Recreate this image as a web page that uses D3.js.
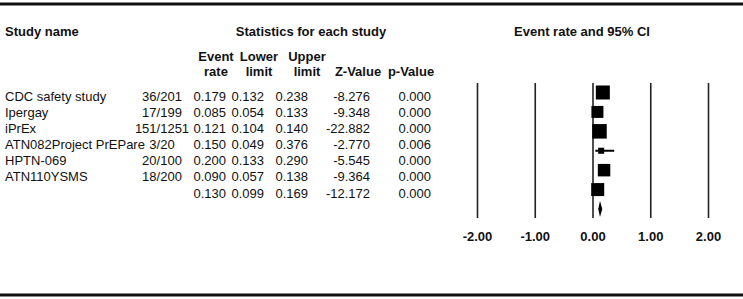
<!DOCTYPE html>
<html>
<head>
<meta charset="utf-8">
<script src="https://cdn.jsdelivr.net/npm/d3@7"></script>
<style>
  body { margin: 0; background: #fff; }
  svg text { font-family: "Liberation Sans", Arial, sans-serif; fill: #111; }
  .hdr { font-weight: bold; font-size: 13px; }
  .cell { font-size: 13px; }
</style>
</head>
<body>
<div id="forest"></div>
<script>
// study rows
let studies = ["CDC safety study", "Ipergay", "iPrEx", "ATN082Project PrEPare", "HPTN-069", "ATN110YSMS"];
let events = ["36/201", "17/199", "151/1251", "3/20", "20/100", "18/200"];
let eventRate = [0.179, 0.085, 0.121, 0.150, 0.200, 0.090];
let lowerLimit = [0.132, 0.054, 0.104, 0.049, 0.133, 0.057];
let upperLimit = [0.238, 0.133, 0.140, 0.376, 0.290, 0.138];
let zValue = [-8.276, -9.348, -22.882, -2.770, -5.545, -9.364];
let pValue = [0.000, 0.000, 0.000, 0.006, 0.000, 0.000];
let relWeight = [21.5, 15.8, 23.1, 4.0, 17.1, 18.6];
// pooled row: rate, lower, upper, z, p
let summaryStats = [0.130, 0.099, 0.169, -12.172, 0.000];
let axisTicks = [-2, -1, 0, 1, 2];

let width = 743, height = 299;

let svg = d3.select("#forest").append("svg")
    .attr("width", width)
    .attr("height", height);

// rules top and bottom
svg.append("line").attr("x1", 0).attr("x2", width).attr("y1", 4).attr("y2", 4)
    .attr("stroke", "#111").attr("stroke-width", 3);
svg.append("line").attr("x1", 0).attr("x2", width).attr("y1", 295).attr("y2", 295)
    .attr("stroke", "#111").attr("stroke-width", 3);

// table rows and plot rows use different spacing in the original
let rowY = d3.scaleLinear().domain([0, 6]).range([101, 197.5]);
let plotY = d3.scaleLinear().domain([0, 6]).range([92.5, 209]);

let x = d3.scaleLinear().domain([-2, 2]).range([477, 708]);
let boxSide = d3.scaleSqrt().domain([0, d3.max(relWeight)]).range([0, 14.5]);

// headers
svg.append("text").attr("class", "hdr").attr("x", 5).attr("y", 36).text("Study name");
svg.append("text").attr("class", "hdr").attr("x", 311).attr("y", 36)
    .attr("text-anchor", "middle").text("Statistics for each study");
svg.append("text").attr("class", "hdr").attr("x", 582).attr("y", 36)
    .attr("text-anchor", "middle").text("Event rate and 95% CI");

let cols = [
    {right: 226, top: "Event", bottom: "rate"},
    {right: 264, top: "Lower", bottom: "limit"},
    {right: 308, top: "Upper", bottom: "limit"},
    {right: 370, top: "", bottom: "Z-Value"},
    {right: 431, top: "", bottom: "p-Value"}
];
let hdrCenter = [216, 259, 307, 358, 411];

cols.forEach(function (c, i) {
    svg.append("text").attr("class", "hdr").attr("x", hdrCenter[i]).attr("y", 61)
        .attr("text-anchor", "middle").text(c.top);
    svg.append("text").attr("class", "hdr").attr("x", hdrCenter[i]).attr("y", 76)
        .attr("text-anchor", "middle").text(c.bottom);
});

let rows = studies.map(function (s, i) {
    return {
        name: s, ev: events[i],
        vals: [eventRate[i], lowerLimit[i], upperLimit[i], zValue[i], pValue[i]],
        w: relWeight[i], i: i
    };
});
rows.push({name: "", ev: "", vals: summaryStats, w: null, i: 6});

let fmt = d3.format(".3f");
let tickFmt = d3.format(".2f");

let rowG = svg.selectAll(".row")
    .data(rows)
    .enter().append("g")
    .attr("class", "row")
    .attr("transform", d => "translate(0," + rowY(d.i) + ")");

rowG.append("text").attr("class", "cell").attr("x", 5).text(d => d.name);
rowG.append("text").attr("class", "cell").attr("x", 162)
    .attr("text-anchor", "middle").text(d => d.ev);

cols.forEach(function (c, j) {
    rowG.append("text").attr("class", "cell")
        .attr("x", c.right)
        .attr("text-anchor", "end")
        .text(d => fmt(d.vals[j]).replace("−", "-"));
});

// grid lines + tick labels
let axisY = 218;
let axis = svg.append("g")
    .attr("transform", "translate(0," + axisY + ")")
    .call(d3.axisBottom(x).tickValues(axisTicks)
        .tickSize(-(axisY - 83))
        .tickPadding(14)
        .tickFormat(d => tickFmt(d).replace("−", "-")));
axis.select(".domain").remove();
axis.selectAll(".tick line").attr("stroke", "#222").attr("stroke-width", 1.6);
axis.selectAll(".tick text")
    .style("font-family", "'Liberation Sans', Arial, sans-serif")
    .style("font-size", "13px")
    .style("font-weight", "bold")
    .attr("fill", "#111");

// study markers
let studyRows = rows.filter(d => d.w !== null);

svg.selectAll(".ci")
    .data(studyRows)
    .enter().append("line")
    .attr("class", "ci")
    .attr("x1", d => x(d.vals[1]))
    .attr("x2", d => x(d.vals[2]))
    .attr("y1", d => plotY(d.i))
    .attr("y2", d => plotY(d.i))
    .attr("stroke", "#000")
    .attr("stroke-width", 2);

svg.selectAll(".box")
    .data(studyRows)
    .enter().append("rect")
    .attr("class", "box")
    .attr("x", d => x(d.vals[0]) - boxSide(d.w) / 2)
    .attr("y", d => plotY(d.i) - boxSide(d.w) / 2)
    .attr("width", d => boxSide(d.w))
    .attr("height", d => boxSide(d.w))
    .style("fill", "#000");

// pooled diamond
let sy = plotY(6);
svg.append("path")
    .attr("d", "M" + x(summaryStats[1]) + "," + sy +
        "L" + x(summaryStats[0]) + "," + (sy - 8) +
        "L" + x(summaryStats[2]) + "," + sy +
        "L" + x(summaryStats[0]) + "," + (sy + 8) + "Z")
    .style("fill", "#000");
</script>
</body>
</html>
